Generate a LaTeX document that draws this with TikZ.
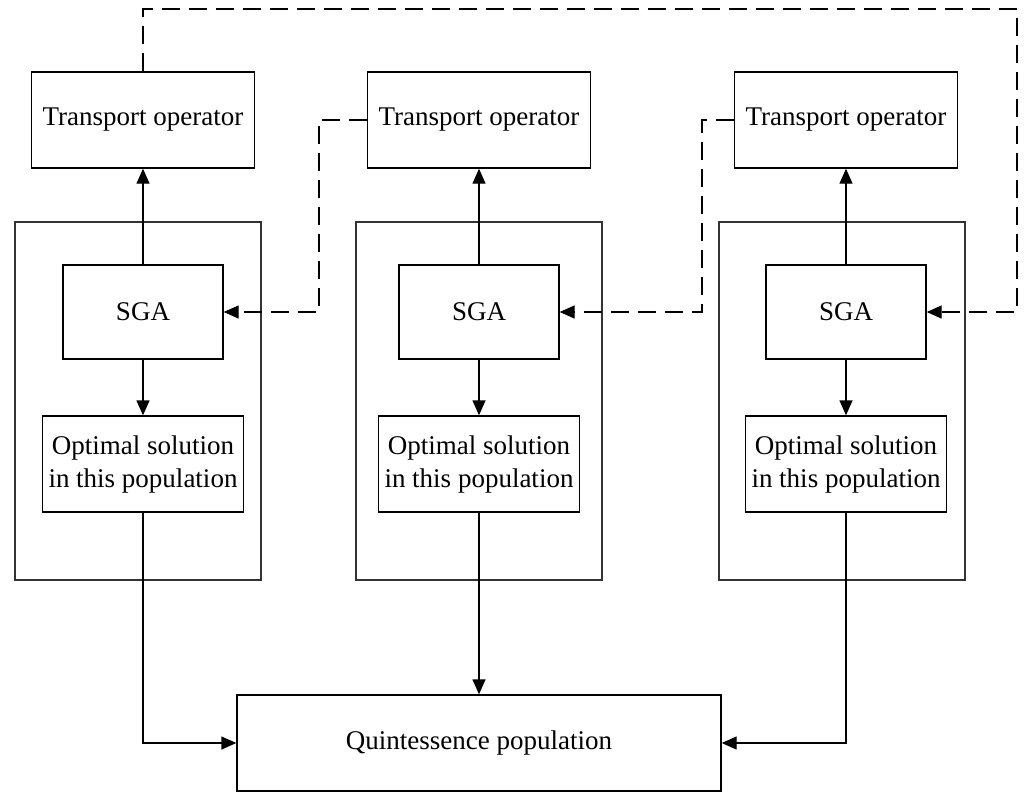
\documentclass[tikz,border=0pt]{standalone}
\usepackage{fontspec}
\setmainfont{Liberation Serif}
\usetikzlibrary{arrows.meta}
\begin{document}
\begin{tikzpicture}[x=1pt,y=-1pt,
  box/.style={draw=black,line width=1.4pt,fill=white,inner sep=0pt,align=center,
    font=\fontsize{27}{33}\selectfont},
  frame/.style={draw=black!80,line width=1.4pt,inner sep=0pt},
  arr/.style={line width=1.4pt,-{Triangle[length=15pt,width=13pt]}},
  darr/.style={arr,dash pattern=on 18pt off 9pt}]
\useasboundingbox (0,0) rectangle (1024,801);
% population frames
\node[frame,minimum width=246pt,minimum height=358pt] (F1) at (138,401) {};
\node[frame,minimum width=246pt,minimum height=358pt] (F2) at (479,401) {};
\node[frame,minimum width=246pt,minimum height=358pt] (F3) at (842,401) {};
% transport operators
\node[box,minimum width=223pt,minimum height=96pt] (T1) at (143,120) {Transport operator};
\node[box,minimum width=223pt,minimum height=96pt] (T2) at (479,120) {Transport operator};
\node[box,minimum width=223pt,minimum height=96pt] (T3) at (846,120) {Transport operator};
% SGA
\node[box,minimum width=160pt,minimum height=94pt] (S1) at (143,312) {SGA};
\node[box,minimum width=160pt,minimum height=94pt] (S2) at (479,312) {SGA};
\node[box,minimum width=160pt,minimum height=94pt] (S3) at (846,312) {SGA};
% optimal solutions
\node[box,minimum width=201pt,minimum height=96pt] (O1) at (143,464) {Optimal solution\\in this population};
\node[box,minimum width=201pt,minimum height=96pt] (O2) at (479,464) {Optimal solution\\in this population};
\node[box,minimum width=201pt,minimum height=96pt] (O3) at (846,464) {Optimal solution\\in this population};
% quintessence
\node[box,minimum width=484pt,minimum height=96pt] (Q) at (479,743) {Quintessence population};
% solid arrows
\draw[arr] (S1.north) -- (T1.south);
\draw[arr] (S2.north) -- (T2.south);
\draw[arr] (S3.north) -- (T3.south);
\draw[arr] (S1.south) -- (O1.north);
\draw[arr] (S2.south) -- (O2.north);
\draw[arr] (S3.south) -- (O3.north);
\draw[arr] (O1.south) |- (Q.west);
\draw[arr] (O2.south) -- (Q.north);
\draw[arr] (O3.south) |- (Q.east);
% dashed migration arrows
\coordinate (c1) at (1017,9);
\coordinate (c2) at (319,312);
\coordinate (c3) at (702,312);
\draw[darr] (T1.north) |- (c1) |- (S3.east);
\draw[darr] (T2.west) -| (c2) -- (S1.east);
\draw[darr] (T3.west) -| (c3) -- (S2.east);
\end{tikzpicture}
\end{document}
